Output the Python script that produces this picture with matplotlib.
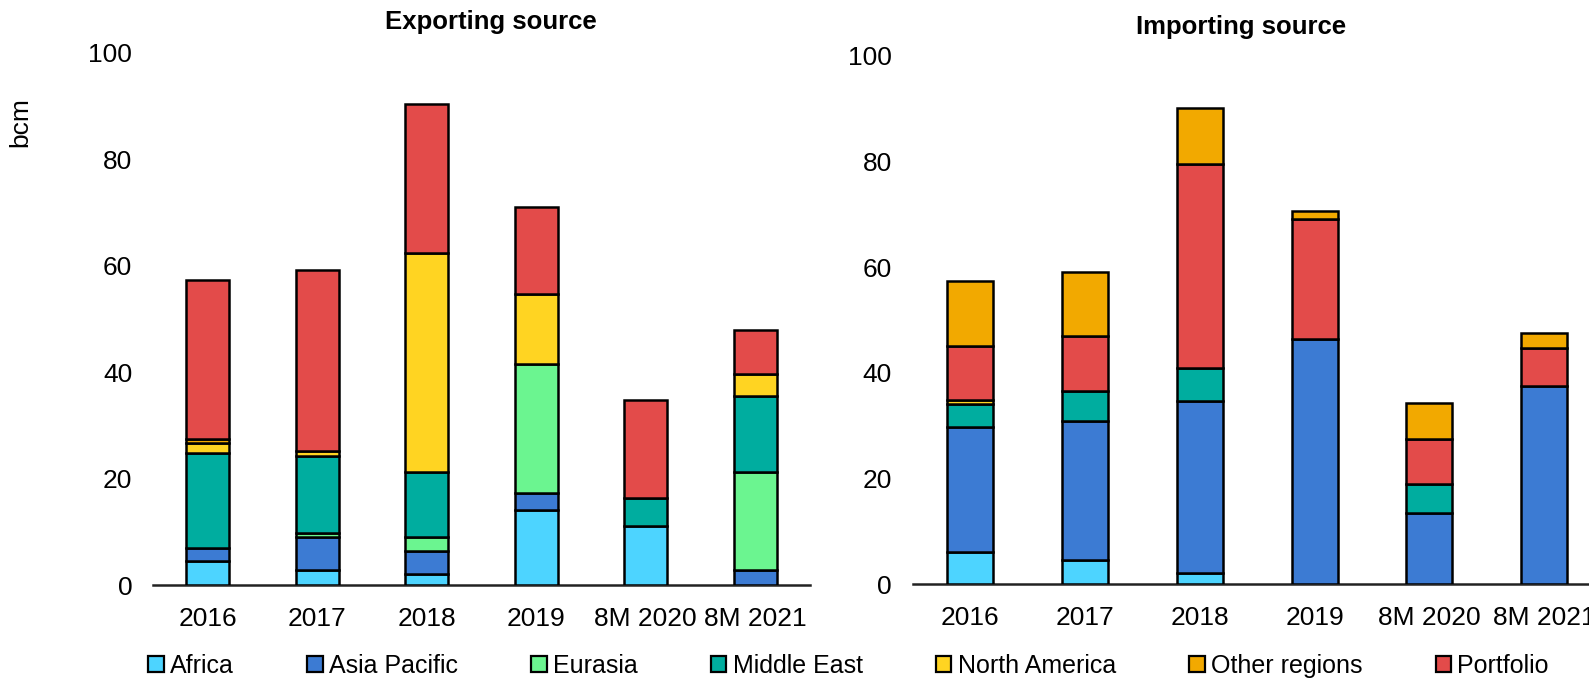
import numpy as np
import matplotlib
matplotlib.use("Agg")
import matplotlib.pyplot as plt
from matplotlib.patches import Patch

plt.rcParams['font.family'] = ['Liberation Sans', 'DejaVu Sans']

# ── Data (bcm) ───────────────────────────────────────────────────────────────
periods = ['2016', '2017', '2018', '2019', '8M 2020', '8M 2021']

series = ['Africa', 'Asia Pacific', 'Eurasia', 'Middle East',
          'North America', 'Other regions', 'Portfolio']
colors = {
    'Africa':        '#4dd4ff',
    'Asia Pacific':  '#3c7bd3',
    'Eurasia':       '#6bf590',
    'Middle East':   '#00ad9f',
    'North America': '#ffd422',
    'Other regions': '#f2a900',
    'Portfolio':     '#e34b4a',
}

# exporting source
exp_africa    = [4.5, 2.9, 2.1, 14.0, 11.0, 0.0]
exp_asia_pac  = [2.5, 6.1, 4.3, 3.2, 0.0, 2.8]
exp_eurasia   = [0.0, 0.75, 2.7, 24.3, 0.0, 18.5]
exp_mid_east  = [17.8, 14.5, 12.1, 0.0, 5.3, 14.2]
exp_n_america = [1.8, 0.9, 41.2, 13.2, 0.0, 4.2]
exp_other     = [0.9, 0.0, 0.0, 0.0, 0.0, 0.0]
exp_portfolio = [29.8, 34.0, 28.0, 16.4, 18.4, 8.2]

# importing source
imp_africa    = [6.1, 4.6, 2.0, 0.0, 0.0, 0.0]
imp_asia_pac  = [23.7, 26.2, 32.7, 46.4, 13.5, 37.4]
imp_eurasia   = [0.0, 0.0, 0.0, 0.0, 0.0, 0.0]
imp_mid_east  = [4.3, 5.8, 6.1, 0.0, 5.4, 0.0]
imp_n_america = [0.7, 0.0, 0.0, 0.0, 0.0, 0.0]
imp_portfolio = [10.3, 10.4, 38.7, 22.7, 8.5, 7.3]
imp_other     = [12.3, 12.0, 10.7, 1.6, 6.9, 2.9]

exporting = [('Africa', exp_africa), ('Asia Pacific', exp_asia_pac),
             ('Eurasia', exp_eurasia), ('Middle East', exp_mid_east),
             ('North America', exp_n_america), ('Other regions', exp_other),
             ('Portfolio', exp_portfolio)]
importing = [('Africa', imp_africa), ('Asia Pacific', imp_asia_pac),
             ('Eurasia', imp_eurasia), ('Middle East', imp_mid_east),
             ('North America', imp_n_america), ('Portfolio', imp_portfolio),
             ('Other regions', imp_other)]

FS_TICK = 19
FS_LEG = 18


def stacked(ax, stack, width):
    x = np.arange(len(periods))
    bottom = np.zeros(len(periods))
    for name, vals in stack:
        vals = np.array(vals, dtype=float)
        keep = vals > 0  # skip empty segments so no stray edge lines
        ax.bar(x[keep], vals[keep], width, bottom=bottom[keep],
               color=colors[name], edgecolor='black', linewidth=1.8, zorder=3)
        bottom += vals
    ax.set_xlim(-0.5, len(periods) - 0.5)
    ax.set_ylim(0, 100)
    ax.set_yticks(range(0, 101, 20))
    ax.set_xticks(x)
    ax.set_xticklabels(periods)
    for s in ['top', 'right', 'left']:
        ax.spines[s].set_visible(False)
    ax.spines['bottom'].set_linewidth(1.8)
    ax.spines['bottom'].set_color('#222222')
    ax.tick_params(axis='both', length=0, labelsize=FS_TICK, colors='black')
    ax.tick_params(axis='y', pad=15)
    ax.tick_params(axis='x', pad=16)


fig = plt.figure(figsize=(15.89, 6.79), dpi=100)
ax1 = fig.add_axes([0.0963, 0.1384, 0.4135, 0.784])
ax2 = fig.add_axes([0.5744, 0.1399, 0.4335, 0.778])

stacked(ax1, exporting, 0.393)
stacked(ax2, importing, 0.40)

fig.text(0.309, 0.967, 'Exporting source', ha='center', va='center',
         fontsize=18.5, fontweight='bold')
fig.text(0.781, 0.960, 'Importing source', ha='center', va='center',
         fontsize=18.5, fontweight='bold')
fig.text(0.013, 0.82, 'bcm', rotation=90, ha='center', va='center',
         fontsize=19)

handles = [Patch(facecolor=colors[s], edgecolor='black', linewidth=1.6, label=s)
           for s in series]
fig.legend(handles=handles, loc='center', bbox_to_anchor=(0.534, 0.019),
           ncol=7, frameon=False, fontsize=FS_LEG, handlelength=0.62,
           handleheight=0.62, handletextpad=0.25, columnspacing=2.93,
           borderpad=0, borderaxespad=0)

fig.savefig('out.png', dpi=100)
